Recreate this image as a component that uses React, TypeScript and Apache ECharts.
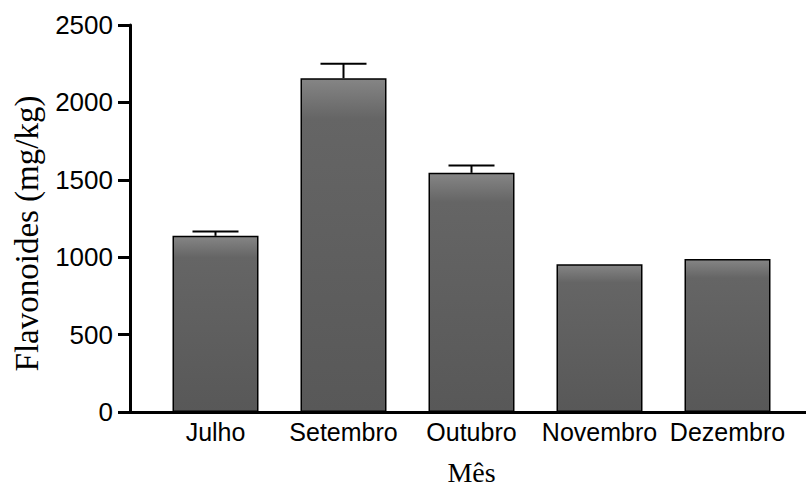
import React, { useEffect, useRef } from "react";
import * as echarts from "echarts";

const categories = ["Julho", "Setembro", "Outubro", "Novembro", "Dezembro"];
const flavonoides = [1138, 2156, 1545, 955, 988];
const erros = [28, 93, 47, 0, 0];
const yTicks = { min: 0, max: 2500, interval: 500 };
const yTitle = "Flavonoides (mg/kg)";
const xTitle = "Mês";

export default function App() {
  const ref = useRef<HTMLDivElement>(null);
  useEffect(() => {
    if (!ref.current) return;
    const chart = echarts.init(ref.current, null, { renderer: "svg" });
    const sans = "'Liberation Sans', Arial, sans-serif";
    const serif = "'Liberation Serif', 'Times New Roman', serif";
    chart.setOption({
      animation: false,
      backgroundColor: "#ffffff",
      grid: [
        { left: 151.5, right: 14.5, top: 25, bottom: 78, outerBoundsMode: "none", containLabel: false },
        { left: 130, right: 0, top: 25, bottom: 78, outerBoundsMode: "none", containLabel: false },
      ],
      xAxis: [
        {
          type: "category",
          gridIndex: 0,
          data: categories,
          axisLine: { show: false },
          axisTick: { show: false },
          axisLabel: { color: "#000", fontFamily: sans, fontSize: 25, margin: 7, interval: 0 },
          name: xTitle,
          nameLocation: "middle",
          nameGap: 46,
          nameTextStyle: { color: "#000", fontFamily: serif, fontSize: 28 },
        },
        {
          type: "value",
          gridIndex: 1,
          min: 0,
          max: 1,
          axisLine: { show: true, lineStyle: { color: "#000", width: 3 } },
          axisTick: { show: false },
          axisLabel: { show: false },
          splitLine: { show: false },
        },
      ],
      yAxis: [
        {
          type: "value",
          gridIndex: 0,
          min: yTicks.min,
          max: yTicks.max,
          interval: yTicks.interval,
          offset: 21.5,
          axisLine: { show: true, lineStyle: { color: "#000", width: 3 } },
          axisTick: { show: true, length: 12, lineStyle: { color: "#000", width: 3 } },
          axisLabel: {
            color: "#000",
            fontFamily: sans,
            fontSize: 26,
            margin: 17,
            formatter: (v: number) => String(v),
          },
          splitLine: { show: false },
          name: yTitle,
          nameLocation: "middle",
          nameRotate: 90,
          nameGap: 87,
          nameTextStyle: {
            color: "#000000",
            fontFamily: serif,
            fontSize: 33,
            padding: [0, 30, 0, 0],
          },
        },
        {
          type: "value",
          gridIndex: 1,
          show: false,
          min: 0,
          max: 1,
        },
      ],
      series: [
        {
          type: "bar",
          xAxisIndex: 0,
          yAxisIndex: 0,
          data: flavonoides,
          barWidth: 86,
          itemStyle: {
            color: {
              type: "linear",
              x: 0,
              y: 0,
              x2: 0,
              y2: 1,
              colorStops: [
                { offset: 0, color: "#858585" },
                { offset: 0.12, color: "#656565" },
                { offset: 1, color: "#585858" },
              ],
            },
            borderColor: "#000",
            borderWidth: 1.5,
          },
        },
        {
          type: "custom",
          xAxisIndex: 0,
          yAxisIndex: 0,
          data: flavonoides.map((v, i) => [i, v, erros[i]]),
          renderItem: (params: any, api: any) => {
            const i = api.value(0);
            const v = api.value(1);
            const e = api.value(2);
            if (!e) return { type: "group", children: [] };
            const p0 = api.coord([i, v]);
            const p1 = api.coord([i, v + e]);
            const half = 23;
            const style = { stroke: "#000", lineWidth: 2 };
            return {
              type: "group",
              children: [
                { type: "line", shape: { x1: p0[0], y1: p0[1], x2: p1[0], y2: p1[1] }, style },
                { type: "line", shape: { x1: p1[0] - half, y1: p1[1], x2: p1[0] + half, y2: p1[1] }, style },
              ],
            };
          },
          z: 3,
        },
      ],
    });
    return () => chart.dispose();
  }, []);
  return <div ref={ref} style={{ width: 806, height: 490, position: "absolute", left: 0, top: 0 }} />;
}
